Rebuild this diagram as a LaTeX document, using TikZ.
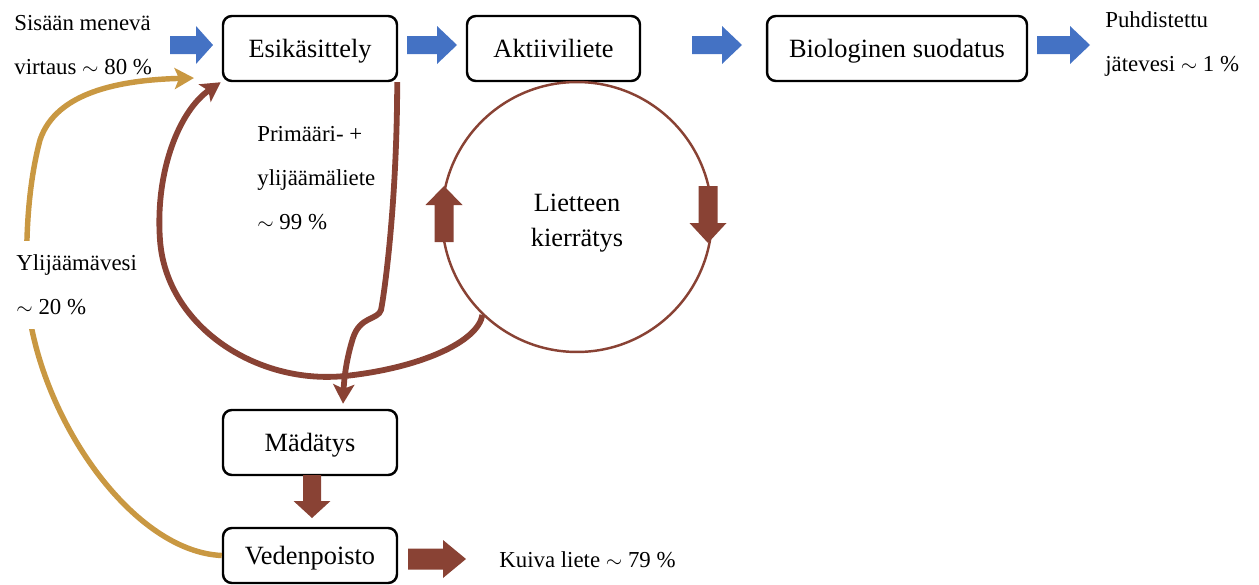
\documentclass[tikz,border=0pt]{standalone}
\usepackage{fontspec}
\setmainfont{Liberation Serif}
\usetikzlibrary{arrows.meta,calc}
\definecolor{flowblue}{RGB}{68,114,196}
\definecolor{sludge}{RGB}{137,66,52}
\definecolor{goldline}{RGB}{201,152,66}
% #1 colour, #2 x, #3 y, #4 rotation, #5 length, #6 head length, #7 shaft half width, #8 head half width
\newcommand\blockarr[8]{%
  \fill[#1, shift={(#2,#3)}, rotate=#4]
    (0,-#7) -- ({#5-#6},-#7) -- ({#5-#6},-#8) -- (#5,0) -- ({#5-#6},#8) -- ({#5-#6},#7) -- (0,#7) -- cycle;}
\begin{document}
\begin{tikzpicture}[x=0.02cm,y=-0.02cm,
  procbox/.style={draw=black, line width=1.4pt, rounded corners=5pt, fill=white,
    minimum height=1.3cm, font=\fontsize{15}{18}\selectfont, inner sep=0pt,
    text height=1.0em, text depth=0em},
  lbl/.style={font=\fontsize{13}{25}\selectfont, align=left, inner sep=0pt},
  sludgeflow/.style={draw=sludge, line width=3.3pt, -{Stealth[length=11pt,width=12pt,inset=2.5pt]}},
  waterback/.style={draw=goldline, line width=3.1pt, -{Stealth[length=11pt,width=12pt,inset=2.5pt]}}
]
\useasboundingbox (0,0) rectangle (1259,585);

% process boxes
\node[procbox, minimum width=3.48cm] (esi) at (310,48.5) {Esikäsittely};
\node[procbox, minimum width=3.46cm] (akt) at (553.5,48.5) {Aktiiviliete};
\node[procbox, minimum width=5.2cm] (bio) at (897,48.5) {Biologinen suodatus};
\node[procbox, minimum width=3.48cm] (mad) at (310,442.5) {Mädätys};
\node[procbox, minimum width=3.48cm, minimum height=1.1cm] (ved) at (310,555.5) {Vedenpoisto};

% recirculation circle
\node[draw=sludge, line width=1.4pt, circle, minimum size=5.4cm, inner sep=0pt] (circ) at (577,217) {};
\node[align=center, inner sep=0pt, font=\fontsize{15}{20}\selectfont] (circtext) at (577,223) {Lietteen\\kierrätys};

% labels
\node[lbl, anchor=west] (inflow) at (14,45) {Sisään menevä\\virtaus $\sim$ 80 \%};
\node[lbl, anchor=west] (outflow) at (1105,44) {Puhdistettu\\jätevesi $\sim$ 1 \%};
\node[lbl, anchor=west] (prim) at (257,178) {Primääri- +\\ylijäämäliete\\$\sim$ 99 \%};
\node[lbl, anchor=west] (dry) at (499,560) {Kuiva liete $\sim$ 79 \%};

% blue block arrows
\blockarr{flowblue}{170}{45}{0}{43}{17}{9}{19}
\blockarr{flowblue}{407}{45}{0}{50}{20}{9}{19}
\blockarr{flowblue}{692}{45}{0}{50}{20}{9}{19}
\blockarr{flowblue}{1037}{45}{0}{53}{20}{9}{19}

% brown block arrows
\blockarr{sludge}{312}{475}{-90}{43}{17}{9}{18.5}
\blockarr{sludge}{408}{559}{0}{58}{23}{10.5}{19}
\blockarr{sludge}{444}{242}{90}{56}{19}{9.5}{18.5}
\blockarr{sludge}{708}{186}{-90}{57}{20}{9.5}{18.5}

% yellow return water
\draw[waterback] (ved.west) .. controls (140,552) and (55,440) .. (32,330)
  .. controls (24,280) and (24,200) .. (40,140)
  .. controls (56,92) and (120,80) .. (194,78);
\node[lbl, anchor=west, fill=white, inner sep=8pt] (ylij) at (2,285) {Ylijäämävesi\\$\sim$ 20 \%};

% sludge lines
\coordinate (madtop) at ($(mad.north)+(33,-5)$);
\draw[sludgeflow] ($(esi.south east)+(-1,0)$) .. controls (397,200) and (385,290) .. (381,310)
  .. controls (378,320) and (360,316) .. (353,338)
  .. controls (346,360) and (344,380) .. (madtop);
\coordinate (esicorner) at ($(esi.south west)+(-1,0)$);
\draw[sludgeflow] (circ.226) .. controls (478,342) and (420,368) .. (345,376)
  .. controls (255,385) and (166,325) .. (160,240)
  .. controls (155,170) and (180,110) .. (esicorner);
\end{tikzpicture}
\end{document}
